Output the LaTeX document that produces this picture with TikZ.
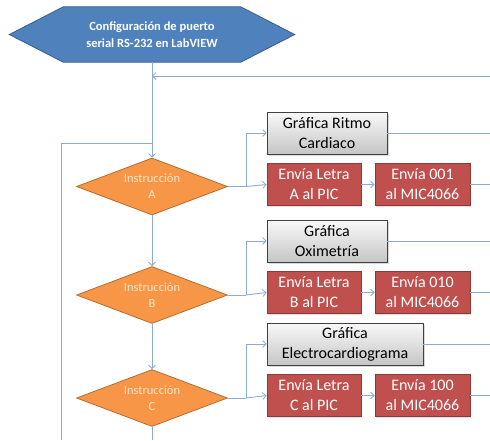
\documentclass[tikz,border=0pt]{standalone}
\usepackage{fontspec}
\setmainfont{Carlito}
\usetikzlibrary{arrows.meta,shapes.geometric,shadows,backgrounds}
\definecolor{hexfill}{HTML}{4F81BD}
\definecolor{hexline}{HTML}{385D8A}
\definecolor{dfill}{HTML}{F79646}
\definecolor{dline}{HTML}{B66D31}
\definecolor{dtext}{HTML}{FCE6C9}
\definecolor{rfill}{HTML}{C0504D}
\definecolor{rline}{HTML}{8C3836}
\definecolor{cline}{HTML}{8EAAD0}
\tikzset{
  conn/.style={draw=cline, line width=0.9pt},
  arr/.style={conn, -{Straight Barb[length=3.5pt,width=7pt,line width=0.8pt]}},
  hexnode/.style={rectangle, minimum width=285pt, minimum height=55pt, inner sep=0pt,
    align=center, text=white, font=\fontsize{12.5}{17}\selectfont\bfseries},
  decision/.style={diamond, aspect=2.65, minimum width=151pt, minimum height=57pt, inner sep=0pt,
    fill=dfill, draw=dline, line width=0.8pt, align=center, text=dtext,
    font=\fontsize{12.5}{16}\selectfont},
  graybox/.style={rectangle, minimum height=42pt, inner sep=0pt, align=center,
    top color=gray!5, bottom color=gray!45, draw=black!75, line width=0.8pt,
    drop shadow={shadow xshift=1.5pt, shadow yshift=-1.5pt, opacity=0.3},
    font=\fontsize{16}{20}\selectfont},
  redbox/.style={rectangle, minimum height=42pt, inner sep=0pt, align=center,
    fill=rfill, draw=rline, line width=0.8pt, text=white,
    drop shadow={shadow xshift=1.2pt, shadow yshift=-1.2pt, opacity=0.25},
    font=\fontsize{16}{20}\selectfont},
}
\begin{document}
\begin{tikzpicture}[x=1pt,y=-1pt]
\useasboundingbox (0,0) rectangle (490,440);
\coordinate (redge) at (490,0);
% start hexagon
\node[hexnode] (hex) at (152,34.5) {Configuración de puerto\\serial RS-232 en LabVIEW};
\begin{scope}[on background layer]
\path[fill=hexfill, draw=hexline, line width=0.8pt]
  (hex.west) -- ([xshift=54pt]hex.north west) -- ([xshift=-54pt]hex.north east)
  -- (hex.east) -- ([xshift=-54pt]hex.south east) -- ([xshift=54pt]hex.south west) -- cycle;
\end{scope}
% decisions
\node[decision] (dA) at (152,186.5) {Instrucción\\A};
\node[decision] (dB) at (152,295) {Instrucción\\B};
\node[decision] (dC) at (152,398) {Instrucción\\C};
% gray boxes
\node[graybox, minimum width=120pt] (gA) at (327,133) {Gráfica Ritmo\\Cardiaco};
\node[graybox, minimum width=120pt] (gB) at (327,241) {Gráfica\\Oximetría};
\node[graybox, minimum width=156pt] (gC) at (345,344) {Gráfica\\Electrocardiograma};
% red boxes
\node[redbox, minimum width=94pt] (rA1) at (314,184.5) {Envía Letra\\A al PIC};
\node[redbox, minimum width=95pt] (rA2) at (422.5,184.5) {Envía 001\\al MIC4066};
\node[redbox, minimum width=94pt] (rB1) at (314,292.5) {Envía Letra\\B al PIC};
\node[redbox, minimum width=95pt] (rB2) at (422.5,292.5) {Envía 010\\al MIC4066};
\node[redbox, minimum width=94pt] (rC1) at (314,395.5) {Envía Letra\\C al PIC};
\node[redbox, minimum width=95pt] (rC2) at (422.5,395.5) {Envía 100\\al MIC4066};
% junctions
\coordinate (fbR) at (490,76);
\coordinate (fbL) at (152,76);
\coordinate (lpB) at (61,440);
\coordinate (lpT) at (61,143);
\coordinate (lpJ) at (152,143);
\coordinate (mB) at (152,440);
\coordinate (jA) at (246,186.5);
\coordinate (jB) at (246,295);
\coordinate (jC) at (246,398);
% main flow
\draw[arr] (hex.south) -- (dA.north);
\draw[arr] (dA.south) -- (dB.north);
\draw[arr] (dB.south) -- (dC.north);
\draw[conn] (dC.south) -- (mB);
\draw[arr] (fbR) -- (fbL);
\draw[conn] (lpB) -- (lpT) -- (lpJ);
% branches
\draw[conn] (dA.east) -- (jA);
\draw[arr] (jA) |- (gA.west);
\draw[arr] (jA) -- (rA1.west);
\draw[conn] (dB.east) -- (jB);
\draw[arr] (jB) |- (gB.west);
\draw[arr] (jB) -- (rB1.west);
\draw[conn] (dC.east) -- (jC);
\draw[arr] (jC) |- (gC.west);
\draw[arr] (jC) -- (rC1.west);
\draw[arr] (rA1) -- (rA2);
\draw[arr] (rB1) -- (rB2);
\draw[arr] (rC1) -- (rC2);
% exits to the right
\draw[conn] (gA.east) -- (gA.east -| redge);
\draw[conn] (gB.east) -- (gB.east -| redge);
\draw[conn] (gC.east) -- (gC.east -| redge);
\draw[conn] (rA2.east) -- (rA2.east -| redge);
\draw[conn] (rB2.east) -- (rB2.east -| redge);
\draw[conn] (rC2.east) -- (rC2.east -| redge);
\end{tikzpicture}
\end{document}
